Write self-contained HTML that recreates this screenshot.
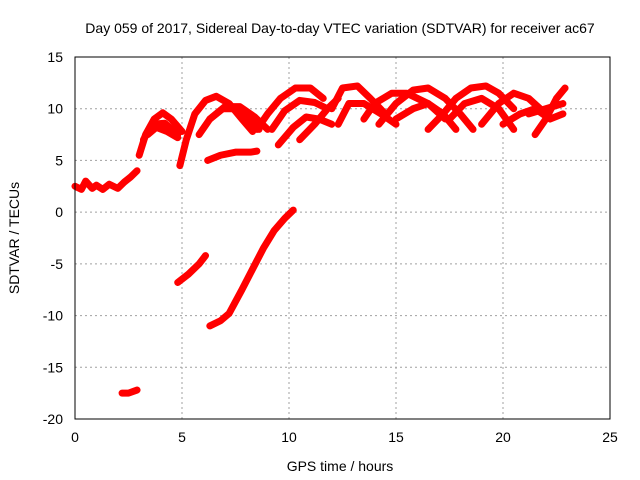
<!DOCTYPE html>
<html><head><meta charset="utf-8"><style>
body{margin:0;background:#fff}
svg{display:block;font-family:"Liberation Sans",sans-serif}
</style></head><body>
<svg id="chart" width="640" height="480" xmlns="http://www.w3.org/2000/svg">
<text x="340" y="33" font-size="14" text-anchor="middle">Day 059 of 2017, Sidereal Day-to-day VTEC variation (SDTVAR) for receiver ac67</text>
<text x="340" y="471" font-size="14" text-anchor="middle">GPS time / hours</text>
<text transform="translate(19,238) rotate(-90)" font-size="14" text-anchor="middle">SDTVAR / TECUs</text>
<g id="grid"></g><g id="ticks"></g><g id="marks"></g>
<rect x="75" y="57" width="535" height="362" fill="none" stroke="#000" stroke-width="1"/>
</svg>
<script>
const xTicks=[0,5,10,15,20,25];
const yTicks=[-20,-15,-10,-5,0,5,10,15];
const trackA=[[0,2.5],[0.3,2.2],[0.5,3],[0.8,2.3],[1,2.6],[1.3,2.2],[1.6,2.7],[2,2.3],[2.3,2.9],[2.6,3.4],[2.9,4]];
const trackB=[[3,5.5],[3.3,7.5],[3.7,9],[4.1,9.6],[4.5,9],[5,7.8]];
const trackC=[[3.2,7],[3.6,8.5],[4.2,8.6],[4.8,7.5]];
const trackC2=[[3.4,7.5],[3.8,8.2],[4.3,7.8],[4.8,7.2]];
const trackD=[[4.9,4.5],[5.2,7],[5.6,9.5],[6.1,10.8],[6.6,11.2],[7.2,10.5],[7.8,9],[8.3,7.8]];
const trackE=[[5.8,7.5],[6.3,9],[6.9,10],[7.5,10],[8.1,9],[8.6,8]];
const trackF=[[6.3,9],[7,10.2],[7.7,10.2],[8.4,9.2],[9,8]];
const trackSeg=[[6.2,5],[6.8,5.5],[7.5,5.8],[8.2,5.8],[8.5,5.9]];
const trackG=[[8.5,8],[9,9.5],[9.6,11],[10.3,12],[11,12],[11.6,11]];
const trackH=[[9.2,8],[9.8,9.8],[10.5,10.8],[11.2,10.6],[11.8,10]];
const trackI=[[9.5,6.5],[10.2,8.2],[10.8,9.2],[11.4,9],[12,8.5]];
const trackI2=[[10.5,7],[11.2,8.5],[11.8,10],[12.3,11]];
const trackJ=[[12,10],[12.5,12],[13.2,12.2],[13.8,11],[14.5,9.5]];
const trackK=[[12.3,8.5],[12.8,10.5],[13.5,10.5],[14.3,9.5],[15,8.5]];
const trackL=[[13.5,9],[14,10.5],[14.8,11.5],[15.5,11.5],[16.5,10.5],[17.3,9]];
const trackM=[[14.2,8.5],[15,10.5],[15.8,11.8],[16.5,12],[17.3,11],[18,9.5],[18.6,8]];
const trackN=[[15,9],[15.8,10],[16.5,10.5],[17.2,9.5],[17.8,8]];
const trackO=[[16.5,8],[17.2,9.5],[17.8,11],[18.5,12],[19.2,12.2],[19.8,11.5],[20.5,10]];
const trackP=[[17.5,9],[18.2,10.5],[19,11],[19.8,10],[20.5,8]];
const trackQ=[[19,8.5],[19.8,10.5],[20.5,11.5],[21.2,11],[22,9.5]];
const trackR=[[20,8.5],[20.8,9.5],[21.5,10],[22.2,9],[22.8,9.5]];
const trackS=[[21.5,7.5],[22,9],[22.5,11],[22.9,12]];
const trackT=[[21.2,9.5],[22,10],[22.8,10.5]];
const trackNeg1=[[4.8,-6.8],[5.3,-6],[5.8,-5],[6.1,-4.2]];
const trackNeg2=[[6.3,-11],[6.8,-10.5],[7.2,-9.8],[7.8,-7.5],[8.3,-5.5],[8.8,-3.5],[9.3,-1.8],[9.8,-0.6],[10.2,0.2]];
const trackNeg3=[[2.2,-17.5],[2.5,-17.5],[2.9,-17.2]];
const tracks=[trackA,trackB,trackC,trackC2,trackD,trackE,trackF,trackSeg,trackG,trackH,trackI,trackI2,trackJ,trackK,trackL,trackM,trackN,trackO,trackP,trackQ,trackR,trackS,trackT,trackNeg1,trackNeg2,trackNeg3];
const NS="http://www.w3.org/2000/svg";
const X=t=>75+t*535/25, Y=v=>419-(v+20)*362/35;
const grid=document.getElementById('grid'),ticks=document.getElementById('ticks'),marks=document.getElementById('marks');
function mk(tag,parent,attrs){const e=document.createElementNS(NS,tag);for(const k in attrs)e.setAttribute(k,attrs[k]);parent.appendChild(e);return e;}
xTicks.forEach(t=>{
 if(t>0&&t<25){const g=mk('line',grid,{x1:X(t),x2:X(t),y1:57,y2:419,stroke:'#a0a0a0','stroke-dasharray':'2,3'});
 
 }
 const l=mk('text',ticks,{x:X(t),y:442,'font-size':14,'text-anchor':'middle'});l.textContent=t;
 
 
});
yTicks.forEach(v=>{
 if(v>-20&&v<15){const g=mk('line',grid,{x1:75,x2:610,y1:Y(v),y2:Y(v),stroke:'#a0a0a0','stroke-dasharray':'2,3'});
 
 }
 const l=mk('text',ticks,{x:63,y:Y(v)+5,'font-size':14,'text-anchor':'end'});l.textContent=v;
 
 
});
tracks.forEach(tr=>{
 const p=mk('polyline',marks,{points:tr.map(d=>X(d[0])+','+Y(d[1])).join(' '),fill:'none',stroke:'#ff0000','stroke-width':7,'stroke-linejoin':'round','stroke-linecap':'round'});
 
 
});
</script>
</body></html>
